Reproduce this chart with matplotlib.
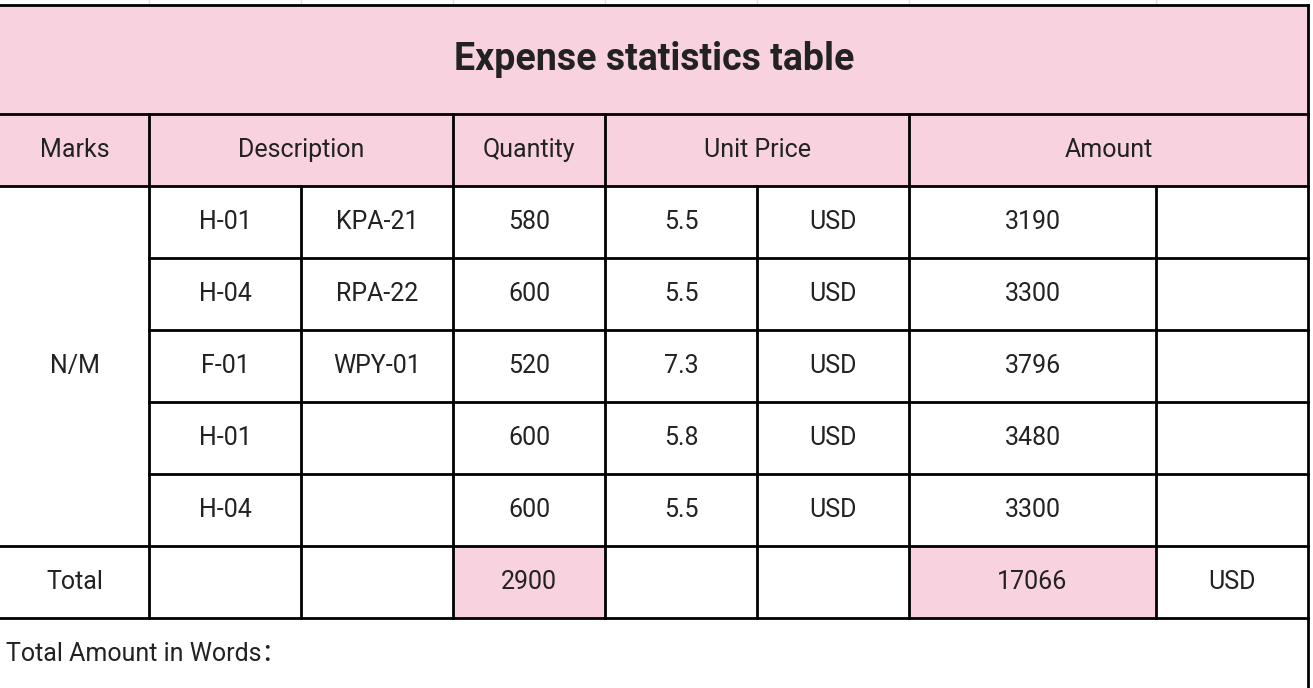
import matplotlib
matplotlib.use("Agg")
import matplotlib.pyplot as plt
from matplotlib.patches import Rectangle

plt.rcParams['font.family'] = ['Roboto', 'Noto Sans CJK SC', 'DejaVu Sans']

title = "Expense statistics table"
headers = ["Marks", "Description", "Quantity", "Unit Price", "Amount"]
marks = "N/M"
codes = ["H-01", "H-04", "F-01", "H-01", "H-04"]
models = ["KPA-21", "RPA-22", "WPY-01", "", ""]
quantities = [580, 600, 520, 600, 600]
unit_prices = [5.5, 5.5, 7.3, 5.8, 5.5]
currencies = ["USD", "USD", "USD", "USD", "USD"]
amounts = [3190, 3300, 3796, 3480, 3300]
total_quantity = 2900
total_amount = 17066
footer = "Total Amount in Words："

PINK = "#f8d3df"
INK = "#222222"

# column edges and row edges in pixels
xs = [0, 149, 301, 453, 605, 757, 909, 1156, 1308]
y_title = (5, 114)
y_head = (114, 186)
row_h = 72
y_rows = [186 + i * row_h for i in range(6)]   # 5 item rows + total row start
y_total_end = y_rows[-1] + row_h

fig = plt.figure(figsize=(13.13, 6.88), dpi=100)
ax = fig.add_axes([0, 0, 1, 1])
ax.set_xlim(0, 1313)
ax.set_ylim(688, 0)
ax.axis("off")

def fill(x0, x1, y0, y1):
    ax.add_patch(Rectangle((x0, y0), x1 - x0, y1 - y0, color=PINK, lw=0, zorder=1))

def hline(y, x0, x1):
    ax.plot([x0, x1], [y, y], color="black", lw=2, zorder=3, solid_capstyle="projecting")

def vline(x, y0, y1):
    ax.plot([x, x], [y0, y1], color="black", lw=2, zorder=3, solid_capstyle="projecting")

def txt(x, y, s, **kw):
    kw.setdefault("fontsize", 18)
    ax.text(x, y, s, ha="center", va="center", color=INK, zorder=4, **kw)

# faint spreadsheet grid above the table
for x in [149, 301, 453, 605, 757, 909, 1156]:
    ax.plot([x, x], [0, 5], color="#dddddd", lw=1, zorder=0)

# backgrounds
fill(0, 1308, *y_title)
fill(0, 1308, *y_head)
fill(xs[3], xs[4], y_rows[-1], y_total_end)
fill(xs[6], xs[7], y_rows[-1], y_total_end)

# title
txt(654, 60, title, fontsize=27, fontweight="bold")

# header cells: (x0, x1, label)
head_spans = [(xs[0], xs[1]), (xs[1], xs[3]), (xs[3], xs[4]), (xs[4], xs[6]), (xs[6], xs[8])]
for (a, b), h in zip(head_spans, headers):
    txt((a + b) / 2, sum(y_head) / 2, h)

def cx(i):
    return (xs[i] + xs[i + 1]) / 2

# item rows
for r in range(5):
    yc = y_rows[r] + row_h / 2
    txt(cx(1), yc, codes[r])
    txt(cx(2), yc, models[r])
    txt(cx(3), yc, str(quantities[r]))
    txt(cx(4), yc, str(unit_prices[r]))
    txt(cx(5), yc, currencies[r])
    txt(cx(6), yc, str(amounts[r]))
txt(cx(0), (y_rows[0] + y_rows[5]) / 2, marks)

# total row
yc = y_rows[-1] + row_h / 2
txt(cx(0), yc, "Total")
txt(cx(3), yc, str(total_quantity))
txt(cx(6), yc, str(total_amount))
txt(cx(7), yc, "USD")

# footer
ax.text(6, 654, footer, ha="left", va="center", color=INK, fontsize=18, zorder=4)

# grid lines
hline(y_title[0], 0, 1308)
hline(y_title[1], 0, 1308)
hline(y_head[1], 0, 1308)
for y in y_rows[1:5]:
    hline(y, xs[1], 1308)
hline(y_rows[-1], 0, 1308)
hline(y_total_end, 0, 1308)
vline(1308, y_title[0], 688)
# header verticals
for x in [xs[1], xs[3], xs[4], xs[6]]:
    vline(x, y_head[0], y_head[1])
# body verticals
for x in xs[1:8]:
    vline(x, y_head[1], y_total_end)

fig.savefig("out.png", dpi=100)
